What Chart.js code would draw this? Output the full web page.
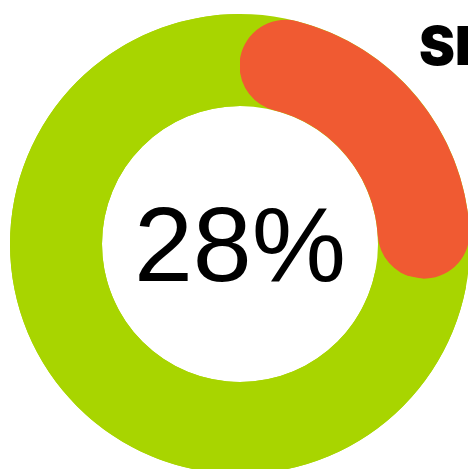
<!DOCTYPE html>
<html lang="es">
<head>
<meta charset="utf-8">
<title>28%</title>
<script src="https://cdn.jsdelivr.net/npm/chart.js@4"></script>
<style>
  html, body { margin: 0; padding: 0; background: #fff; overflow: hidden; }
  body { width: 468px; height: 469px; position: relative; }
  #contenedor { position: absolute; left: 0; top: 0; width: 480px; height: 488px; }
  #titulo {
    position: absolute; left: 419px; top: 19px; margin: 0;
    font-family: Inter, "Liberation Sans", sans-serif; font-weight: 900;
    font-size: 54px; line-height: 1; white-space: nowrap; color: #000;
  }
</style>
</head>
<body>
<div id="contenedor"><canvas id="grafico"></canvas></div>
<h1 id="titulo">SI</h1>
<script>
// DATOS:
const etiquetas = ["Avance", "Resto"];
const valores = [28, 72];
const colores = ["#f05a32", "#a8d500"];
const textoCentro = valores[0] + "%";

// anillo verde completo debajo, para que las esquinas redondeadas no dejen huecos
const anilloFondo = {
    id: "anilloFondo",
    beforeDatasetsDraw(chart) {
        const arco = chart.getDatasetMeta(0).data[0];
        const ctx = chart.ctx;
        ctx.save();
        ctx.beginPath();
        ctx.arc(arco.x, arco.y, arco.outerRadius, 0, Math.PI * 2);
        ctx.arc(arco.x, arco.y, arco.innerRadius, 0, Math.PI * 2, true);
        ctx.fillStyle = colores[1];
        ctx.fill();
        ctx.restore();
    }
};

// porcentaje en el centro
const porcentajeCentro = {
    id: "porcentajeCentro",
    afterDatasetsDraw(chart) {
        const arco = chart.getDatasetMeta(0).data[0];
        const ctx = chart.ctx;
        ctx.save();
        ctx.font = "106px 'Liberation Sans', Arial, sans-serif";
        ctx.fillStyle = "#000";
        ctx.textAlign = "center";
        ctx.textBaseline = "alphabetic";
        ctx.fillText(textoCentro, arco.x, arco.y + 37);
        ctx.restore();
    }
};

new Chart(document.getElementById("grafico"), {
    type: "doughnut",
    data: {
        labels: etiquetas,
        datasets: [{
            data: valores,
            backgroundColor: colores,
            borderWidth: 0,
            borderRadius: [46, 0],
            hoverOffset: 0
        }]
    },
    options: {
        responsive: true,
        maintainAspectRatio: false,
        animation: false,
        cutout: "60%",
        layout: { padding: 10 },
        plugins: {
            legend: { display: false },
            tooltip: { enabled: false }
        },
        events: []
    },
    plugins: [anilloFondo, porcentajeCentro]
});
</script>
</body>
</html>
